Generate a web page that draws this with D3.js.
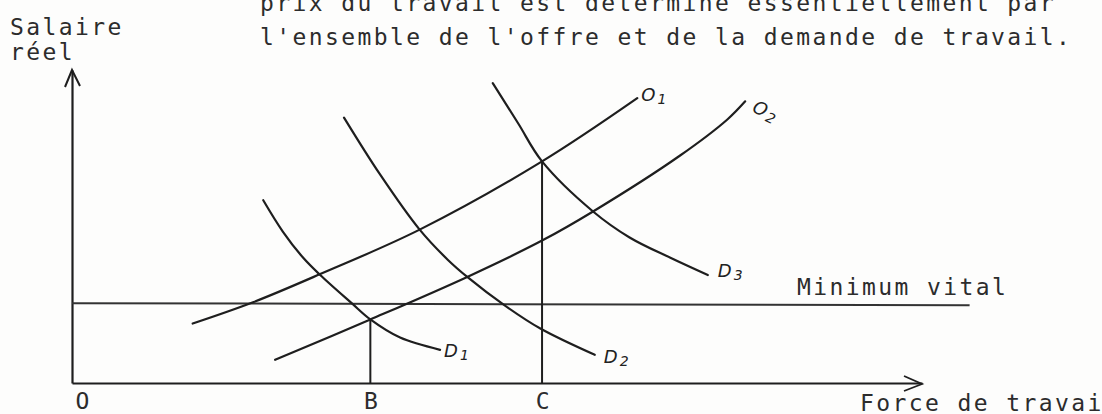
<!DOCTYPE html>
<html><head><meta charset="utf-8">
<script src="https://cdn.jsdelivr.net/npm/d3@7"></script>
<style>
html,body{margin:0;padding:0;background:#fdfdfc;overflow:hidden}
svg{display:block}
.mono{font-family:"DejaVu Sans Mono",monospace;font-size:23px;letter-spacing:2.4px;fill:#2c2c2c}
.hand{font-family:"DejaVu Sans",sans-serif;font-style:italic;font-size:18px;fill:#222}
</style></head>
<body>
<svg id="c" width="1102" height="414"></svg>
<script>
// ---- data (labour force on x, real wage on y; 0..100 units) ----
const headerLines = ["prix du travail est déterminé essentiellement par",
                     "l'ensemble de l'offre et de la demande de travail."];
const yTitle = ["Salaire", "réel"];
const xTitle = "Force de travail";
const xTickValues = [0, 35.1, 55.3];
const xTickLabels = ["O", "B", "C"];
const minimumVital = 25.5;
const minimumVitalEnd = 105.6;
const minimumVitalLabel = "Minimum vital";

const o1X = [14.2, 21.3, 29.2, 40.9, 55.3, 66.5];
const o1Y = [19.0, 25.8, 34.8, 49.0, 70.8, 91.0];
const o2X = [23.9, 35.1, 46.5, 55.3, 61.3, 71.5, 77.1, 79.2];
const o2Y = [7.4, 20.3, 33.9, 45.5, 54.8, 72.6, 84.2, 90.0];
const d1X = [22.5, 24.8, 27.2, 29.2, 32.9, 35.1, 38.6, 43.3];
const d1Y = [58.4, 48.4, 40.0, 34.5, 25.5, 20.3, 14.5, 10.6];
const d2X = [32.0, 36.2, 40.9, 44.2, 46.5, 50.9, 55.1, 61.5];
const d2Y = [84.8, 66.8, 49.0, 39.4, 33.9, 24.8, 17.4, 9.0];
const d3X = [49.5, 52.5, 55.3, 61.3, 65.6, 70.4, 74.8];
const d3Y = [95.8, 82.9, 70.8, 54.8, 46.5, 40.0, 34.5];
const curveNames = ["O", "O", "D", "D", "D"];
const curveSubs = ["1", "2", "1", "2", "3"];
// equilibrium drop lines: at B (O2 x D1) and C (O1 x D3)
const dropX = [35.1, 55.3];
const dropY = [20.3, 70.8];

// ---- drawing ----
const svg = d3.select("#c");
const x = d3.scaleLinear().domain([0, 100]).range([72, 922]);
const y = d3.scaleLinear().domain([0, 100]).range([383, 70]);
const ink = "#1e1e1e";

// header text
svg.selectAll("text.head").data(headerLines).join("text")
  .attr("class", "mono head")
  .attr("x", 260).attr("y", (d, i) => 11 + i * 34)
  .text(d => d);

// y title
svg.selectAll("text.yt").data(yTitle).join("text")
  .attr("class", "mono yt")
  .attr("x", 10).attr("y", (d, i) => 35 + i * 25)
  .text(d => d);

// axes
const xAxis = d3.axisBottom(x).tickValues(xTickValues)
  .tickFormat((d, i) => xTickLabels[i]).tickSize(0).tickPadding(10);
const gx = svg.append("g").attr("transform", `translate(0,${y(0)})`).call(xAxis);
gx.select(".domain").attr("stroke", ink).attr("stroke-width", 2.2);
gx.selectAll(".tick text").attr("class", "mono").style("letter-spacing", "0px")
  .attr("text-anchor", (d, i) => i === 0 ? "start" : "middle")
  .attr("dx", (d, i) => i === 0 ? 3 : 0);

const yAxis = d3.axisLeft(y).tickValues([]).tickSize(0);
const gy = svg.append("g").attr("transform", `translate(${x(0)},0)`).call(yAxis);
gy.select(".domain").attr("stroke", ink).attr("stroke-width", 2.2);

// arrowheads
svg.append("path")
  .attr("d", `M${x(0) - 7},${y(100) + 17} L${x(0)},${y(100)} L${x(0) + 8},${y(100) + 16}`)
  .attr("fill", "none").attr("stroke", ink).attr("stroke-width", 2);
svg.append("path")
  .attr("d", `M${x(100) - 18},${y(0) - 7} L${x(100)},${y(0) + 1} L${x(100) - 18},${y(0) + 8}`)
  .attr("fill", "none").attr("stroke", ink).attr("stroke-width", 1.8);

// x title
svg.append("text").attr("class", "mono")
  .attr("x", 860).attr("y", 411).text(xTitle);

// minimum vital
svg.append("line")
  .attr("x1", x(0)).attr("x2", x(minimumVitalEnd))
  .attr("y1", y(minimumVital)).attr("y2", y(minimumVital) + 2)
  .attr("stroke", "#333").attr("stroke-width", 2);
svg.append("text").attr("class", "mono")
  .attr("x", 797).attr("y", y(minimumVital) - 8).text(minimumVitalLabel);

// drop lines
svg.selectAll("line.drop").data(dropX).join("line")
  .attr("class", "drop")
  .attr("x1", d => x(d)).attr("x2", d => x(d))
  .attr("y1", (d, i) => y(dropY[i])).attr("y2", y(0))
  .attr("stroke", ink).attr("stroke-width", 2);

// curves
const curves = [[o1X, o1Y], [o2X, o2Y], [d1X, d1Y], [d2X, d2Y], [d3X, d3Y]]
  .map(([xs, ys]) => xs.map((v, i) => [v, ys[i]]));
const line = d3.line().x(d => x(d[0])).y(d => y(d[1])).curve(d3.curveCatmullRom.alpha(0.5));
svg.selectAll("path.curve").data(curves).join("path")
  .attr("class", "curve")
  .attr("d", line)
  .attr("fill", "none").attr("stroke", ink).attr("stroke-width", 2.2)
  .attr("stroke-linecap", "round");

// curve labels at curve ends
const labOff = [[4, 3], [6, 10], [4, 7], [9, 8], [10, 2]];
const labRot = [0, 25, 0, 0, 0];
const labs = svg.selectAll("text.lab").data(curves).join("text")
  .attr("class", "hand lab")
  .attr("transform", (c, i) => {
    const p = c[c.length - 1];
    return `translate(${x(p[0]) + labOff[i][0]},${y(p[1]) + labOff[i][1]}) rotate(${labRot[i]})`;
  });
labs.append("tspan").text((c, i) => curveNames[i]);
labs.append("tspan").attr("dx", 2).attr("dy", 3).style("font-size", "14px")
  .text((c, i) => curveSubs[i]);
</script>
</body></html>
